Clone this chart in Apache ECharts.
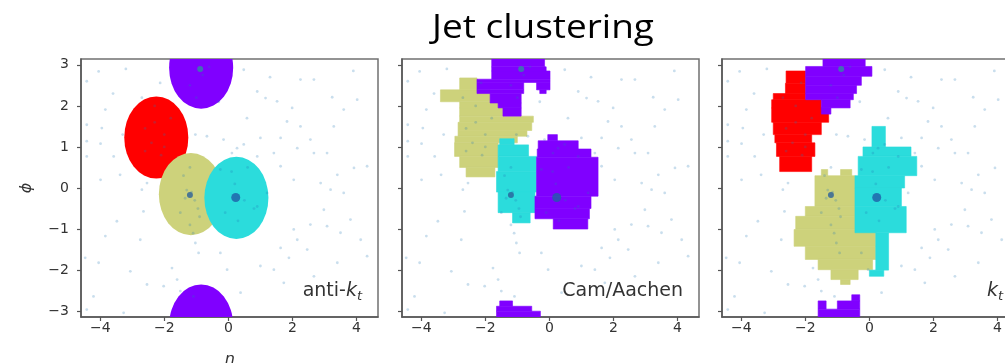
<!DOCTYPE html>
<html>
<head>
<meta charset="utf-8">
<script src="https://cdn.jsdelivr.net/npm/echarts@6/dist/echarts.min.js"></script>
<style>
  html, body { margin: 0; padding: 0; background: #ffffff; }
  #chart { width: 1005px; height: 363px; }
</style>
</head>
<body>
<div id="chart"></div>
<script>
// ---- axis ticks ----
const ETA_TICKS = [-4, -2, 0, 2, 4];
const PHI_TICKS = [-3, -2, -1, 0, 1, 2, 3];
const ETA_RANGE = [-4.6, 4.67];
const PHI_RANGE = [-Math.PI, Math.PI];

// ---- event particles [eta, phi] ----
const particles = [
  [-4.05, 2.84], [-4.42, 2.6], [-3.84, 1.91], [-4.42, 1.54], [-3.95, 1.46], [-4.42, 1.14],
  [-3.99, 1.08], [-3.58, 0.77], [-4.42, 0.77], [-3.38, 0.32], [-3.99, 0.2], [-2.54, 0.12],
  [-1.03, 1.3], [-0.67, 1.26], [-0.15, 1.18], [0.27, 0.97], [0.48, 1.06], [0.58, 1.7],
  [1.16, 2.19], [1.52, 2.11], [1.99, 1.95], [1.83, 1.62], [1.0, 1.22], [1.63, 1.22],
  [2.25, 1.5], [2.56, 1.18], [2.15, 0.97], [2.67, 0.85], [3.08, 0.85], [3.4, 0.32],
  [3.92, 0.49], [4.33, 0.53], [4.02, 2.15], [3.6, 1.91], [2.25, 2.64], [2.67, 2.64],
  [0.48, 2.88], [-2.13, 2.56], [3.29, 1.5], [0.11, 0.85], [-0.25, 0.45], [1.63, 0.53],
  [2.04, 0.2], [2.88, 0.12], [0.9, 0.77], [1.42, 0.85], [3.24, 2.21], [3.9, 2.85],
  [-3.2, 2.9], [-3.6, 2.3], [-3.3, 1.3], [1.3, 2.7], [0.9, 2.35], [-0.3, 2.1],
  [-2.7, -0.04], [-2.65, -0.57], [-3.48, -0.81], [-3.84, -1.17], [-2.75, -1.26], [-4.47, -1.7],
  [-4.05, -1.82], [-3.06, -2.03], [-1.76, -1.95], [-1.03, -1.34], [-0.93, -1.58], [-1.6, -2.23],
  [-2.02, -2.39], [-2.54, -2.35], [-1.5, -2.51], [-1.09, -2.64], [0.38, -2.55], [1.0, -1.9],
  [1.42, -1.99], [1.73, -2.31], [1.89, -1.7], [1.63, -1.46], [2.15, -1.26], [2.46, -1.5],
  [2.04, -1.01], [2.56, -0.89], [2.98, -0.53], [3.19, -0.04], [3.6, -0.12], [3.81, -0.77],
  [4.13, -1.26], [3.5, -1.09], [3.08, -0.93], [4.33, -1.66], [3.4, -1.82], [2.67, -2.15],
  [-4.21, -2.64], [-3.27, -3.04], [-4.42, -2.96], [0.9, -0.45], [1.21, -0.12], [-0.25, -1.58],
  [-0.04, -1.99],
  [-1.3, -0.05], [-1.05, -0.3], [-0.95, -0.5], [-1.4, 0.3], [-1.2, 0.5], [-0.9, -0.7],
  [-1.5, -0.6], [-1.2, -0.9], [-1.1, -1.1], [-1.35, -0.25], [-1.15, -0.1], [0.1, 0.4],
  [0.5, -0.3], [-0.1, -0.6], [0.6, 0.5], [0.3, -0.8], [0.8, -0.5], [0.2, 0.1],
  [-2.3, 1.6], [-2.0, 1.3], [-2.6, 0.9], [-2.4, 1.1], [-2.1, 0.8], [-0.8, 2.75],
  [-1.2, 2.5], [-0.6, 2.95], [-2.6, 1.45], [-2.3, 2.0], [-2.7, 2.2], [-2.0, 1.0],
  [-1.8, 1.7], [-1.0, 2.2]
];

// ---- leading particles / jet axes [eta, phi] ----
const jetAxes = [[0.23, -0.23], [-1.2, -0.17], [-0.88, 2.9]];

// ---- anti-kt cones [eta, phi, R] ----
const antiKtRed = [[-2.25, 1.23, 1.0]];
const antiKtYellow = [[-1.17, -0.15, 1.0]];
const antiKtCyan = [[0.25, -0.24, 1.0]];
const antiKtPurple = [[-0.85, 2.93, 1.0], [-0.85, -3.35, 1.0]];

// ---- Cam/Aachen jet areas, rows [phiTop, phiBottom, etaLeft, etaRight] ----
const caPurpleTop = [
  [3.2, 2.95, -1.8, -0.15], [2.95, 2.85, -1.8, -0.1], [2.85, 2.65, -1.8, 0.02],
  [2.65, 2.57, -2.26, 0.02], [2.57, 2.39, -2.26, -0.8], [2.57, 2.39, -0.4, 0.02],
  [2.39, 2.3, -2.26, -0.8], [2.39, 2.3, -0.3, -0.1], [2.3, 2.07, -1.85, -0.88],
  [2.07, 1.95, -1.6, -0.88], [1.95, 1.75, -1.45, -0.88]
];
const caYellow = [
  [2.68, 2.39, -2.8, -2.26], [2.39, 2.1, -3.4, -1.85], [2.1, 1.95, -2.8, -1.6],
  [1.95, 1.75, -2.8, -1.45], [1.75, 1.6, -2.8, -0.5], [1.6, 1.4, -2.85, -0.55],
  [1.4, 1.26, -2.85, -0.7], [1.26, 1.1, -2.95, -1.0], [1.1, 0.77, -2.96, -1.6],
  [0.77, 0.5, -2.8, -1.6], [0.5, 0.27, -2.6, -1.7]
];
const caCyan = [
  [1.2, 1.05, -1.55, -1.1], [1.05, 0.77, -1.6, -0.65], [0.77, 0.4, -1.6, -0.4],
  [0.4, -0.1, -1.65, -0.4], [-0.1, -0.6, -1.6, -0.45], [-0.6, -0.85, -1.15, -0.6]
];
const caPurpleMid = [
  [1.3, 1.15, -0.05, 0.25], [1.15, 0.95, -0.35, 0.9], [0.95, 0.75, -0.38, 1.3],
  [0.75, -0.2, -0.4, 1.52], [-0.2, -0.5, -0.45, 1.3], [-0.5, -0.75, -0.45, 1.25],
  [-0.75, -1.0, 0.12, 1.2]
];
const caPurpleBottom = [
  [-2.75, -2.88, -1.55, -1.15], [-2.88, -3.0, -1.65, -0.55], [-3.0, -3.2, -1.65, -0.28]
];

// ---- kt jet areas, rows [phiTop, phiBottom, etaLeft, etaRight] ----
const ktPurpleTop = [
  [3.2, 2.96, -1.45, -0.13], [2.96, 2.72, -1.99, 0.08], [2.72, 2.5, -1.99, -0.25],
  [2.5, 2.3, -1.99, -0.4], [2.3, 2.15, -1.99, -0.5], [2.15, 1.95, -1.5, -0.6],
  [1.95, 1.8, -1.5, -1.2]
];
const ktRed = [
  [2.85, 2.55, -2.6, -1.99], [2.55, 2.3, -2.62, -1.99], [2.3, 2.15, -3.0, -1.99],
  [2.15, 1.95, -3.05, -1.5], [1.95, 1.6, -3.05, -1.27], [1.6, 1.3, -3.0, -1.5],
  [1.3, 1.1, -2.95, -1.8], [1.1, 0.77, -2.9, -1.7], [0.77, 0.4, -2.8, -1.8]
];
const ktCyan = [
  [1.5, 1.0, 0.08, 0.5], [1.0, 0.77, -0.2, 1.3], [0.77, 0.3, -0.35, 1.48],
  [0.3, 0.0, -0.45, 1.1], [0.0, -0.45, -0.45, 1.0], [-0.45, -1.09, -0.45, 1.15],
  [-1.09, -2.0, 0.2, 0.6], [-2.0, -2.15, 0.0, 0.45]
];
const ktYellow = [
  [0.45, 0.3, -1.5, -1.3], [0.45, 0.3, -0.9, -0.55], [0.3, -0.45, -1.7, -0.45],
  [-0.45, -0.69, -2.0, -0.45], [-0.69, -1.01, -2.3, -0.45], [-1.01, -1.42, -2.35, 0.2],
  [-1.42, -1.74, -2.0, 0.2], [-1.74, -1.99, -1.6, 0.1], [-1.99, -2.23, -1.2, -0.35],
  [-2.23, -2.35, -0.9, -0.6]
];
const ktPurpleBottom = [
  [-2.6, -2.75, -0.55, -0.3], [-2.75, -2.95, -1.6, -1.35], [-2.75, -2.95, -1.0, -0.3],
  [-2.95, -3.2, -1.6, -0.3]
];

// ---- colours ----
const PURPLE = '#8000ff', RED = '#ff0000', YELLOW = '#cdd27b', CYAN = '#2bdcdc';
const DOT = 'rgba(31,119,180,0.3)';
const AXIS_DARK = '#555555';
const TEXT_DARK = '#333333';

const GRIDS = [
  { left: 81, top: 59, width: 297, height: 258 },
  { left: 402, top: 59, width: 297, height: 258 },
  { left: 722, top: 59, width: 297, height: 258 }
];

const minusSign = v => String(v).replace('-', '\u2212');

function clipRect(cs) {
  return { type: 'rect', shape: { x: cs.x, y: cs.y, width: cs.width, height: cs.height } };
}

// rows of the ghost-area grid
function renderRow(params, api) {
  const a = api.coord([api.value(2), api.value(0)]);
  const b = api.coord([api.value(3), api.value(1)]);
  const color = api.visual('color');
  return {
    type: 'group',
    clipPath: clipRect(params.coordSys),
    children: [{
      type: 'rect',
      shape: { x: a[0], y: a[1], width: b[0] - a[0], height: b[1] - a[1] },
      style: { fill: color, stroke: color, lineWidth: 0.6 }
    }]
  };
}

// cone of radius R around a jet axis
function renderCone(params, api) {
  const c = api.coord([api.value(0), api.value(1)]);
  const s = api.size([api.value(2), api.value(2)]);
  return {
    type: 'group',
    clipPath: clipRect(params.coordSys),
    children: [{
      type: 'circle',
      shape: { cx: 0, cy: 0, r: s[0] },
      x: c[0], y: c[1], scaleY: s[1] / s[0],
      style: { fill: api.visual('color') }
    }]
  };
}

function areaSeries(panel, data, color) {
  return {
    type: 'custom', xAxisIndex: panel, yAxisIndex: panel,
    renderItem: renderRow, data: data, encode: { x: [2, 3], y: [0, 1] },
    itemStyle: { color: color }, silent: true, z: 2
  };
}
function coneSeries(panel, data, color) {
  return {
    type: 'custom', xAxisIndex: panel, yAxisIndex: panel,
    renderItem: renderCone, data: data, encode: { x: 0, y: 1 },
    itemStyle: { color: color }, silent: true, z: 2
  };
}

const JET_MARKER_SIZE = [9, 6, 6];
const JET_MARKER_COLOR = ['#1f5ea8', '#2a5f9a', '#2f8aa3'];

const xAxes = GRIDS.map((g, i) => ({
  type: 'value', gridIndex: i, min: ETA_RANGE[0], max: ETA_RANGE[1],
  name: i === 0 ? '\u03b7' : '', nameLocation: 'middle', nameGap: 35,
  nameTextStyle: { fontFamily: 'DejaVu Sans', fontStyle: 'italic', fontSize: 16, color: TEXT_DARK },
  splitLine: { show: false },
  axisLine: { show: true, onZero: false, lineStyle: { color: AXIS_DARK, width: 1.5 } },
  axisTick: { show: true, length: 4, customValues: ETA_TICKS, lineStyle: { color: AXIS_DARK, width: 1.2 } },
  axisLabel: { customValues: ETA_TICKS, formatter: minusSign, margin: 4,
    fontFamily: 'DejaVu Sans', fontSize: 14, color: TEXT_DARK }
}));

const yAxes = GRIDS.map((g, i) => ({
  type: 'value', gridIndex: i, min: PHI_RANGE[0], max: PHI_RANGE[1],
  name: i === 0 ? '\u03d5' : '', nameLocation: 'middle', nameGap: 46, nameRotate: 90,
  nameTextStyle: { fontFamily: 'DejaVu Sans', fontStyle: 'italic', fontSize: 16, color: TEXT_DARK },
  splitLine: { show: false },
  axisLine: { show: true, onZero: false, lineStyle: { color: AXIS_DARK, width: 1.5 } },
  axisTick: { show: true, length: 4, customValues: PHI_TICKS, lineStyle: { color: AXIS_DARK, width: 1.2 } },
  axisLabel: { show: i === 0, customValues: PHI_TICKS, formatter: minusSign, margin: 12,
    fontFamily: 'DejaVu Sans', fontSize: 14, color: TEXT_DARK }
}));

const series = [
  // anti-kt
  coneSeries(0, antiKtRed, RED),
  coneSeries(0, antiKtYellow, YELLOW),
  coneSeries(0, antiKtCyan, CYAN),
  coneSeries(0, antiKtPurple, PURPLE),
  // Cam/Aachen
  areaSeries(1, caYellow, YELLOW),
  areaSeries(1, caPurpleTop, PURPLE),
  areaSeries(1, caCyan, CYAN),
  areaSeries(1, caPurpleMid, PURPLE),
  areaSeries(1, caPurpleBottom, PURPLE),
  // kt
  areaSeries(2, ktRed, RED),
  areaSeries(2, ktPurpleTop, PURPLE),
  areaSeries(2, ktYellow, YELLOW),
  areaSeries(2, ktCyan, CYAN),
  areaSeries(2, ktPurpleBottom, PURPLE)
];

GRIDS.forEach((g, i) => {
  series.push({
    type: 'scatter', xAxisIndex: i, yAxisIndex: i, data: particles,
    symbol: 'circle', symbolSize: 2.8, itemStyle: { color: DOT }, silent: true, z: 5
  });
  series.push({
    type: 'scatter', xAxisIndex: i, yAxisIndex: i, data: jetAxes,
    symbol: 'circle', symbolSize: (v, p) => JET_MARKER_SIZE[p.dataIndex],
    itemStyle: { color: p => JET_MARKER_COLOR[p.dataIndex] }, silent: true, z: 6
  });
});

const algoLabels = [
  { text: 'anti-{k|k}{t|t}', x: 362 },
  { text: 'Cam/Aachen', x: 683 },
  { text: '{k|k}{t|t}', x: 1003 }
];
const richStyle = {
  k: { fontFamily: 'DejaVu Sans', fontStyle: 'italic', fontSize: 19, lineHeight: 24, fill: TEXT_DARK, color: TEXT_DARK },
  t: { fontFamily: 'DejaVu Sans', fontStyle: 'italic', fontSize: 13, lineHeight: 24, verticalAlign: 'bottom', fill: TEXT_DARK, color: TEXT_DARK }
};

const graphic = [{
  type: 'text', x: 543, y: 29, z: 10, scaleX: 1.12,
  style: { text: 'Jet clustering', font: '33px "Open Sans"', fill: '#000000', align: 'center', verticalAlign: 'middle' }
}].concat(algoLabels.map(l => ({
  type: 'text', x: l.x, y: 291, z: 10,
  style: {
    text: l.text, font: '19px "DejaVu Sans"', fill: TEXT_DARK, align: 'right', verticalAlign: 'middle',
    lineHeight: 24, rich: richStyle
  }
})));

const chart = echarts.init(document.getElementById('chart'), null, { renderer: 'canvas' });
chart.setOption({
  animation: false,
  backgroundColor: '#ffffff',
  grid: GRIDS.map(g => Object.assign({
    show: true, borderColor: '#707070', borderWidth: 1.5, backgroundColor: 'transparent',
    containLabel: false, outerBoundsMode: 'none'
  }, g)),
  xAxis: xAxes,
  yAxis: yAxes,
  series: series,
  graphic: graphic
});
</script>
</body>
</html>
